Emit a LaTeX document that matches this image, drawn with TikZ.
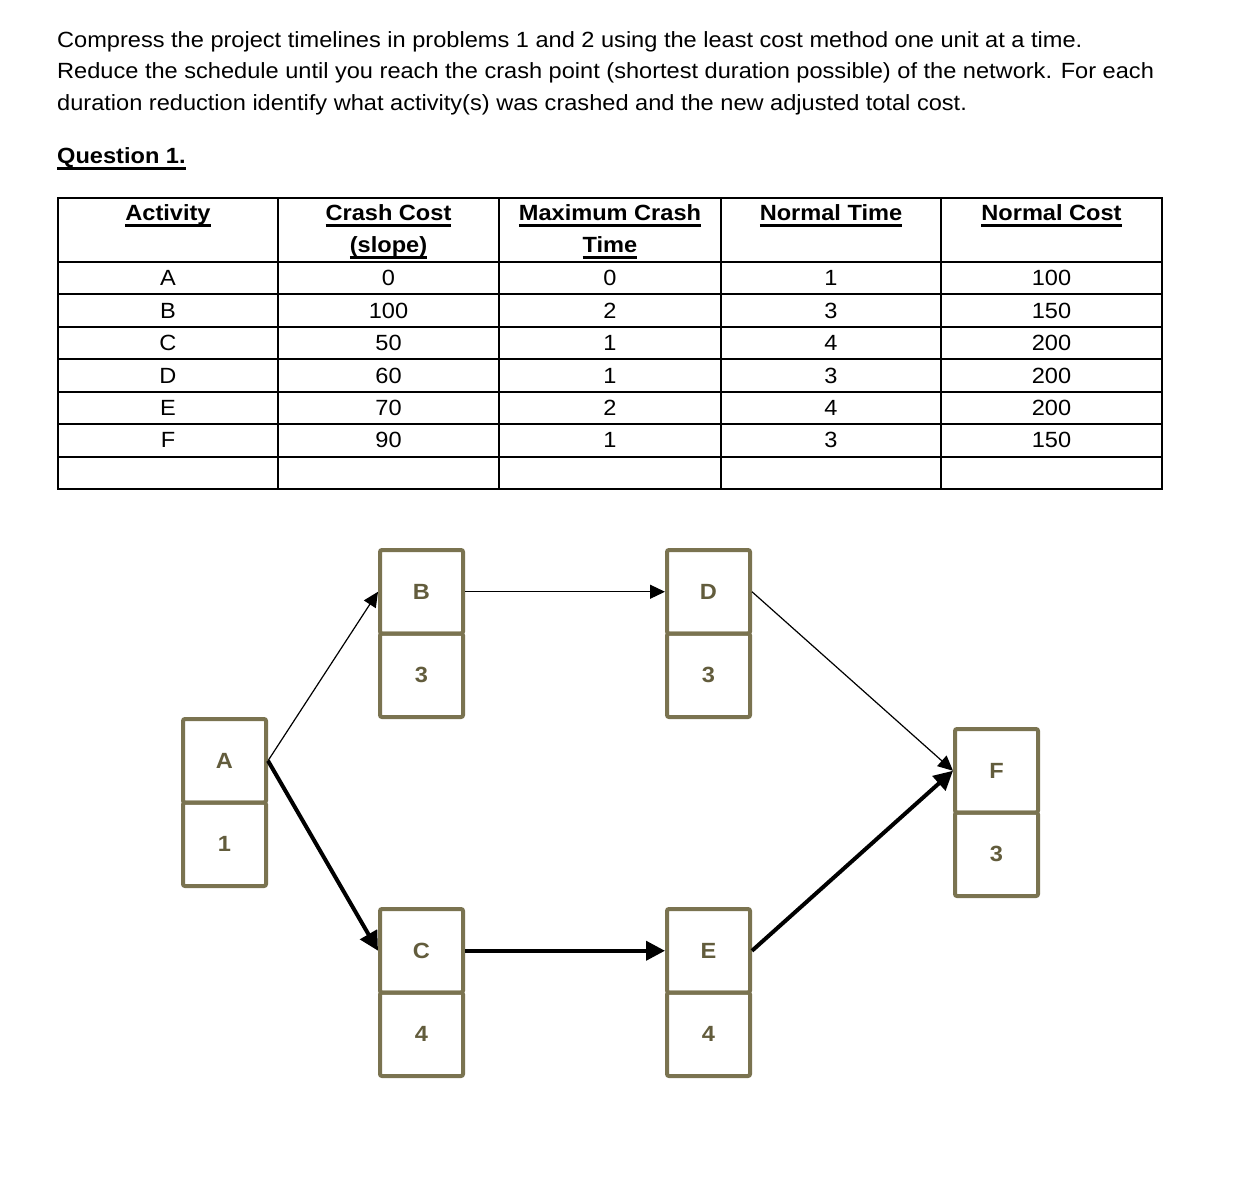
\documentclass[tikz,border=0pt]{standalone}
\usepackage{fontspec}
\setmainfont[FakeStretch=1.072]{Liberation Sans}
\usepackage{xcolor}
\usetikzlibrary{positioning,arrows.meta}
\definecolor{boxline}{RGB}{122,115,80}
\definecolor{boxtext}{RGB}{98,92,60}
\newsavebox{\ulbox}
\newcommand{\ulinetext}[1]{\sbox{\ulbox}{#1}\usebox{\ulbox}\llap{\rule[-7pt]{\wd\ulbox}{2.6pt}}}

\begin{document}
\begin{tikzpicture}[x=1pt, y=-1pt, font=\fontsize{22}{31}\selectfont,
    txt/.style={anchor=base west, inner sep=0pt},
    head/.style={anchor=base, inner sep=0pt, font=\fontsize{22}{31}\selectfont\bfseries},
    entry/.style={anchor=base, inner sep=0pt},
    grid/.style={line width=2pt},
    cell/.style={draw=boxline, line width=4pt, rounded corners=2pt, minimum width=83pt,
        minimum height=83.5pt, text=boxtext, font=\fontsize{22}{25}\selectfont\bfseries},
    thinarrow/.style={line width=1.2pt, -{Triangle[length=15pt,width=14pt]}},
    thickarrow/.style={line width=4pt, -{Triangle[length=19pt,width=19pt]}}]
    \useasboundingbox (0,0) rectangle (1253,1191);

    % Instructions
    \node[txt] (line1) at (57,47.5) {Compress the project timelines in problems 1 and 2 using the least cost method one unit at a time.};
    \node[txt] (line2) at (57,78.8) {Reduce the schedule until you reach the crash point (shortest duration possible) of the network. For each};
    \node[txt] (line3) at (57,110.1) {duration reduction identify what activity(s) was crashed and the new adjusted total cost.};
    \node[txt, font=\fontsize{22}{31}\selectfont\bfseries] (question) at (57,163) {\ulinetext{Question 1.}};

    % Table grid
    \draw[grid] (58,198) rectangle (1162,489);
    \foreach \x in {278,499,721,941}
        \draw[grid] (\x,198) -- (\x,489);
    \draw[grid] (58,262) -- (1162,262);
    \foreach \i in {1,...,6}
        \draw[grid] (58,{262+\i*32.43}) -- (1162,{262+\i*32.43});

    % Table header
    \node[head] (h-act) at (168,220) {\ulinetext{Activity}};
    \node[head] (h-slope) at (388.5,220) {\ulinetext{Crash Cost}};
    \node[head] (h-slope2) at (388.5,252) {\ulinetext{(slope)}};
    \node[head] (h-max) at (610,220) {\ulinetext{Maximum Crash}};
    \node[head] (h-max2) at (610,252) {\ulinetext{Time}};
    \node[head] (h-nt) at (831,220) {\ulinetext{Normal Time}};
    \node[head] (h-nc) at (1051.5,220) {\ulinetext{Normal Cost}};

    % Table rows
    \foreach \act/\slope/\maxc/\nt/\nc [count=\i] in {A/0/0/1/100, B/100/2/3/150, C/50/1/4/200,
        D/60/1/3/200, E/70/2/4/200, F/90/1/3/150} {
        \node[entry] (r\i-act) at (168,{262+(\i-0.5)*32.43+7.5}) {\act};
        \node[entry] (r\i-slope) at (388.5,{262+(\i-0.5)*32.43+7.5}) {\slope};
        \node[entry] (r\i-max) at (610,{262+(\i-0.5)*32.43+7.5}) {\maxc};
        \node[entry] (r\i-nt) at (831,{262+(\i-0.5)*32.43+7.5}) {\nt};
        \node[entry] (r\i-nc) at (1051.5,{262+(\i-0.5)*32.43+7.5}) {\nc};
    }

    % Activity boxes: name on top, duration below
    \foreach \n/\x/\y/\d in {A/224.5/760.75/1, B/421.5/591.75/3, C/421.5/950.75/4,
        D/708.5/591.75/3, E/708.5/950.75/4, F/996.5/770.75/3} {
        \node[cell] (\n) at (\x,\y) {\n};
        \node[cell, below=-4pt of \n] (\n-d) {\d};
    }

    % Network arrows (thick = critical path)
    \draw[thinarrow] (A.east) -- (B.west);
    \draw[thickarrow] (A.east) -- (C.west);
    \draw[thinarrow] (B.east) -- (D.west);
    \draw[thickarrow] (C.east) -- (E.west);
    \draw[thinarrow] (D.east) -- (F.west);
    \draw[thickarrow] (E.east) -- (F.west);
\end{tikzpicture}
\end{document}
